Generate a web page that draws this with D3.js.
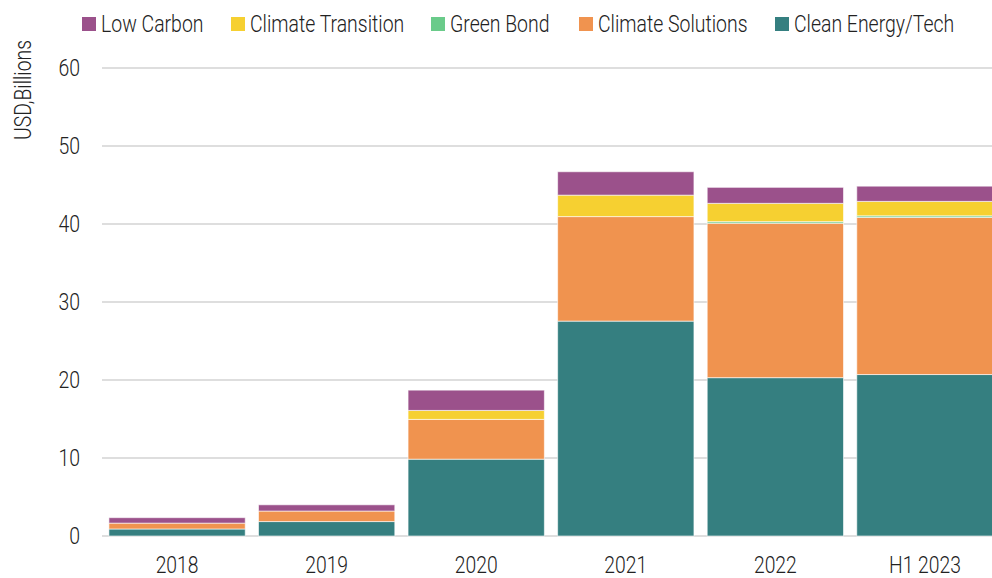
<html>
<script src='https://d3js.org/d3.v7.min.js'></script>
<style>
  body { margin: 0; background: #fff; }
  text { font-family: "Roboto", "DejaVu Sans Condensed", sans-serif; font-weight: 300; fill: #222; }
</style>
<body>
<svg width=992 height=578></svg>
<script>
  // chart data
  var years = ["2018", "2019", "2020", "2021", "2022", "H1 2023"];
  var seriesNames = ["Clean Energy/Tech", "Climate Solutions", "Green Bond", "Climate Transition", "Low Carbon"];
  var cleanEnergy = [0.9, 1.85, 9.85, 27.55, 20.3, 20.7];
  var climateSolutions = [0.75, 1.35, 5.1, 13.4, 19.8, 20.15];
  var greenBond = [0, 0, 0, 0, 0.2, 0.2];
  var climateTransition = [0, 0, 1.15, 2.75, 2.35, 1.85];
  var lowCarbon = [0.7, 0.8, 2.6, 3.0, 2.05, 1.95];
  var yTicks = [0, 10, 20, 30, 40, 50, 60];
  var legendOrder = ["Low Carbon", "Climate Transition", "Green Bond", "Climate Solutions", "Clean Energy/Tech"];

  var colors = {
    "Clean Energy/Tech": "#357f80",
    "Climate Solutions": "#f0934f",
    "Green Bond": "#6acb8a",
    "Climate Transition": "#f6d031",
    "Low Carbon": "#9b518b"
  };

  // narrow the text to look like the condensed face of the original
  var squeeze = "scale(0.81,1)";

  var table = years.map(function(y, i) {
    return {
      year: y,
      "Clean Energy/Tech": cleanEnergy[i],
      "Climate Solutions": climateSolutions[i],
      "Green Bond": greenBond[i],
      "Climate Transition": climateTransition[i],
      "Low Carbon": lowCarbon[i]
    };
  });

  var svg = d3.select("svg");

  var x = d3.scaleBand().domain(years).range([102.3, 999.7]).paddingInner(0.0887).paddingOuter(0.0443);
  var y = d3.scaleLinear().domain([0, 60]).range([536, 68]);

  // gridlines
  svg.append("g").selectAll("line").data(yTicks).enter().append("line")
    .attr("x1", 102).attr("x2", 992)
    .attr("y1", function(d) { return y(d); }).attr("y2", function(d) { return y(d); })
    .attr("stroke", "#dedede").attr("stroke-width", 2);

  // y axis labels
  var yAxis = svg.append("g").attr("transform", "translate(80,0)")
    .call(d3.axisLeft(y).tickValues(yTicks).tickSize(0).tickPadding(0));
  yAxis.select(".domain").remove();
  yAxis.selectAll("text").style("font-size", "24px").attr("fill", "#222").attr("transform", squeeze);

  // stacked bars
  var stack = d3.stack().keys(seriesNames)(table);
  svg.append("g").selectAll("g").data(stack).enter().append("g")
    .attr("fill", function(d) { return colors[d.key]; })
    .selectAll("rect").data(function(d) { return d; }).enter().append("rect")
    .filter(function(d) { return d[1] - d[0] > 0; })
    .attr("x", function(d) { return x(d.data.year); })
    .attr("width", x.bandwidth())
    .attr("y", function(d) { return y(d[1]); })
    .attr("height", function(d) { return y(d[0]) - y(d[1]); })
    .attr("stroke", "#fff").attr("stroke-opacity", 0.6).attr("stroke-width", 1);

  // x axis labels
  var xAxis = svg.append("g").attr("transform", "translate(0,550)")
    .call(d3.axisBottom(x).tickSize(0));
  xAxis.select(".domain").remove();
  xAxis.selectAll("text").style("font-size", "23px").attr("fill", "#222")
    .attr("y", 23).attr("dy", 0).attr("transform", "scale(0.84,1)");

  // y axis title
  svg.append("text")
    .attr("transform", "translate(31,140) rotate(-90) scale(0.84,1)")
    .style("font-size", "23px")
    .text("USD,Billions");

  // legend
  var legendX = [82, 231, 431, 579, 775];
  var legend = svg.append("g").selectAll("g").data(legendOrder).enter().append("g")
    .attr("transform", function(d, i) { return "translate(" + legendX[i] + ",0)"; });
  legend.append("rect").attr("x", 0).attr("y", 17).attr("width", 14).attr("height", 14)
    .attr("fill", function(d) { return colors[d]; });
  legend.append("text").attr("transform", "translate(19,31.5) " + squeeze).style("font-size", "24px")
    .text(function(d) { return d; });
</script>
</body>
</html>
